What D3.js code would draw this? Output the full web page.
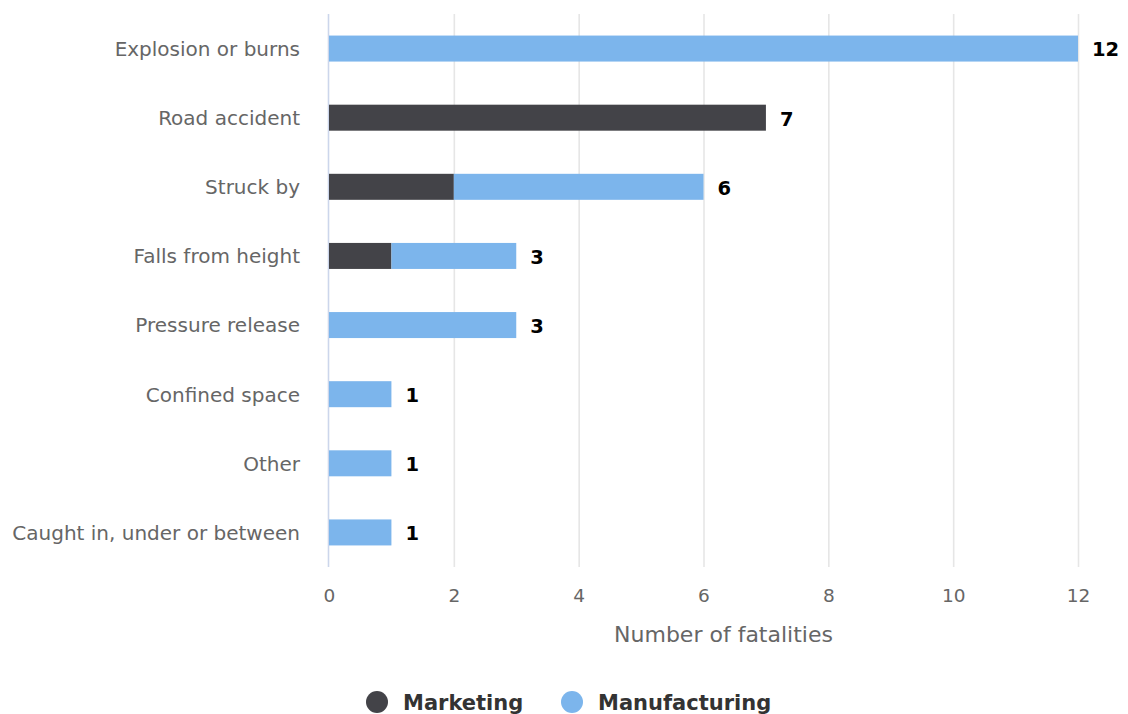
<!DOCTYPE html>
<html>
<head>
<meta charset="utf-8">
<script src="https://cdn.jsdelivr.net/npm/d3@7"></script>
<style>
  html, body { margin: 0; padding: 0; background: #fff; }
  svg { display: block; font-family: "DejaVu Sans", Verdana, sans-serif; }
</style>
</head>
<body>
<svg id="chart" width="1128" height="714"></svg>
<script>
// Fatalities by cause, split by sector
const categories = [
  "Explosion or burns",
  "Road accident",
  "Struck by",
  "Falls from height",
  "Pressure release",
  "Confined space",
  "Other",
  "Caught in, under or between"
];
const marketing     = [0, 7, 2, 1, 0, 0, 0, 0];
const manufacturing = [12, 0, 4, 2, 3, 1, 1, 1];
const seriesNames   = ["Marketing", "Manufacturing"];
const seriesColors  = ["#434348", "#7cb5ec"];
const xTicks        = [0, 2, 4, 6, 8, 10, 12];
const xTitle        = "Number of fatalities";

const svg = d3.select("#chart");
const margin = { left: 329, right: 50, top: 14, bottom: 147 };
const W = 1128, H = 714;

const x = d3.scaleLinear().domain([0, 12]).range([margin.left, W - margin.right]);
const y = d3.scaleBand().domain(categories).range([margin.top, H - margin.bottom]).paddingInner(0).paddingOuter(0);
const barH = 26;

const rows = categories.map((c, i) => ({ category: c, Marketing: marketing[i], Manufacturing: manufacturing[i] }));
const stacked = d3.stack().keys(seriesNames)(rows);

// vertical grid lines
svg.append("g").selectAll("line")
  .data(xTicks.filter(t => t !== 0))
  .join("line")
  .attr("x1", d => x(d) + 0.5).attr("x2", d => x(d) + 0.5)
  .attr("y1", margin.top).attr("y2", H - margin.bottom)
  .attr("stroke", "#e6e6e6").attr("stroke-width", 1.6);

// category axis line
svg.append("line")
  .attr("x1", x(0) - 0.5).attr("x2", x(0) - 0.5)
  .attr("y1", margin.top).attr("y2", H - margin.bottom)
  .attr("stroke", "#ccd6eb").attr("stroke-width", 1.6);

// bars
svg.append("g").selectAll("g")
  .data(stacked)
  .join("g")
  .attr("fill", (d, i) => seriesColors[i])
  .selectAll("rect")
  .data(d => d.filter(p => p[1] > p[0]))
  .join("rect")
  .attr("x", d => x(d[0]))
  .attr("width", d => x(d[1]) - x(d[0]))
  .attr("y", d => y(d.data.category) + y.bandwidth() / 2 - barH / 2)
  .attr("height", barH);

// stack totals
svg.append("g").selectAll("text")
  .data(rows)
  .join("text")
  .attr("x", d => x(d.Marketing + d.Manufacturing) + 14)
  .attr("y", d => y(d.category) + y.bandwidth() / 2 + 1)
  .attr("dy", "0.35em")
  .attr("font-size", 19.5).attr("font-weight", "bold").attr("fill", "#000")
  .text(d => d.Marketing + d.Manufacturing);

// category labels
const yAxis = d3.axisLeft(y).tickSize(0).tickPadding(29);
svg.append("g")
  .attr("transform", `translate(${x(0)},1)`)
  .call(yAxis)
  .call(g => g.select(".domain").remove())
  .call(g => g.selectAll("text").attr("font-size", 20).attr("fill", "#666666")
    .attr("font-family", "DejaVu Sans, sans-serif"));

// value axis labels
const xAxis = d3.axisBottom(x).tickValues(xTicks).tickSize(0).tickPadding(22);
svg.append("g")
  .attr("transform", `translate(0,${H - margin.bottom})`)
  .call(xAxis)
  .call(g => g.select(".domain").remove())
  .call(g => g.selectAll("text").attr("font-size", 18.5).attr("fill", "#666666")
    .attr("font-family", "DejaVu Sans, sans-serif"));

// axis title
svg.append("text")
  .attr("x", (x(0) + x(12)) / 2 + 20).attr("y", 642)
  .attr("text-anchor", "middle")
  .attr("font-size", 22).attr("fill", "#666666")
  .text(xTitle);

// legend
const legend = svg.append("g");
const legendItems = [
  { name: seriesNames[0], color: seriesColors[0], cx: 377 },
  { name: seriesNames[1], color: seriesColors[1], cx: 572 }
];
legendItems.forEach(it => {
  legend.append("circle").attr("cx", it.cx).attr("cy", 702).attr("r", 11).attr("fill", it.color);
  legend.append("text").attr("x", it.cx + 26).attr("y", 703).attr("dy", "0.35em")
    .attr("font-size", 21).attr("font-weight", "bold").attr("fill", "#333333")
    .text(it.name);
});
</script>
</body>
</html>
